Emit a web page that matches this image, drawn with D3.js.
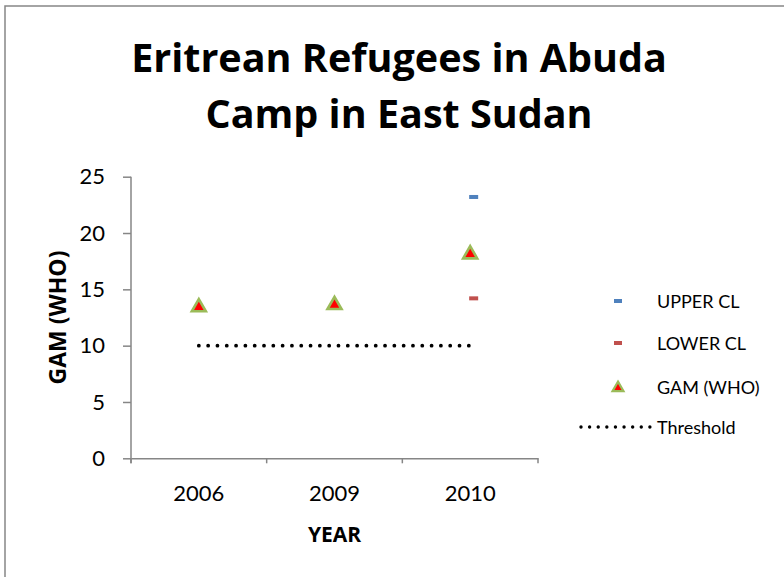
<!DOCTYPE html>
<html>
<head>
<meta charset="utf-8">
<script src="https://cdn.jsdelivr.net/npm/d3@7"></script>
<style>
  html, body { margin: 0; padding: 0; background: #fff; }
  svg { display: block; font-family: Lato, "Open Sans", sans-serif; }
</style>
</head>
<body>
<svg id="chart" width="784" height="577"></svg>
<script>
// Survey years and GAM (WHO) prevalence with confidence limits
const years = ["2006", "2009", "2010"];
const gam = [13.5, 13.7, 18.2];
const upperCL = [null, null, 23.2];
const lowerCL = [null, null, 14.2];
const threshold = [10, 10, 10];
const yTicks = [0, 5, 10, 15, 20, 25];
const titleLines = ["Eritrean Refugees in Abuda", "Camp in East Sudan"];

const svg = d3.select("#chart");
const axisGrey = "#868686";
const boldFont = "'Open Sans', Lato, sans-serif";

// outer chart frame
svg.append("rect")
  .attr("x", 5).attr("y", 6)
  .attr("width", 800).attr("height", 600)
  .attr("fill", "#fff")
  .attr("stroke", axisGrey).attr("stroke-width", 1.5);

const plot = { left: 131, right: 538, top: 176.7, bottom: 458.3 };

const x = d3.scaleBand().domain(years).range([plot.left, plot.right]).paddingInner(0).paddingOuter(0);
const y = d3.scaleLinear().domain([0, 25]).range([plot.bottom, plot.top]);
const cx = d => x(d) + x.bandwidth() / 2;

// title, sized so the first line spans the chart's title width
const title = svg.append("text")
  .attr("text-anchor", "middle")
  .attr("font-family", boldFont)
  .attr("font-weight", "bold").attr("font-size", 36);
title.selectAll("tspan").data(titleLines).join("tspan")
  .attr("x", 399)
  .attr("y", (d, i) => 72 + i * 56)
  .text(d => d);
const firstLine = title.select("tspan").node().getComputedTextLength();
if (firstLine > 0) title.attr("font-size", 36 * 536 / firstLine);

// y axis
const yAxis = svg.append("g")
  .attr("transform", `translate(${plot.left},0)`)
  .call(d3.axisLeft(y).tickValues(yTicks).tickSize(8).tickPadding(18).tickSizeOuter(0));
yAxis.select(".domain").attr("stroke", axisGrey).attr("stroke-width", 1.5)
  .attr("d", `M0,${plot.top}V${plot.bottom + 5}`);
yAxis.selectAll(".tick line").attr("stroke", axisGrey).attr("stroke-width", 1.5);
yAxis.selectAll(".tick text").attr("font-size", 22).attr("fill", "#000")
  .attr("font-family", "Lato, 'Open Sans', sans-serif");

// x axis with boundary ticks between categories
const xAxis = svg.append("g")
  .attr("transform", `translate(0,${plot.bottom})`)
  .call(d3.axisBottom(x).tickSize(0).tickPadding(0).tickSizeOuter(0));
xAxis.select(".domain").attr("stroke", axisGrey).attr("stroke-width", 1.5);
xAxis.selectAll(".tick text").attr("font-size", 22).attr("fill", "#000")
  .attr("font-family", "Lato, 'Open Sans', sans-serif")
  .attr("dy", 0).attr("y", 43);
const bounds = years.map(d => x(d)).concat([x(years[years.length - 1]) + x.bandwidth()]);
xAxis.selectAll(".bound").data(bounds).join("line")
  .attr("class", "bound")
  .attr("x1", d => d).attr("x2", d => d)
  .attr("y1", 0).attr("y2", 5)
  .attr("stroke", axisGrey).attr("stroke-width", 1.5);

// axis titles
svg.append("text")
  .attr("x", (plot.left + plot.right) / 2).attr("y", 542)
  .attr("text-anchor", "middle")
  .attr("font-family", boldFont)
  .attr("font-weight", "bold").attr("font-size", 21)
  .text("YEAR");
svg.append("text")
  .attr("transform", `translate(66,${(plot.top + plot.bottom) / 2}) rotate(-90)`)
  .attr("text-anchor", "middle")
  .attr("font-family", boldFont)
  .attr("font-weight", "bold").attr("font-size", 23)
  .text("GAM (WHO)");

// threshold dotted line
const dotStyle = sel => sel
  .attr("fill", "none").attr("stroke", "#000")
  .attr("stroke-width", 3.8).attr("stroke-linecap", "round")
  .attr("stroke-dasharray", "0.01,9.3");
svg.append("path")
  .datum(years.map((d, i) => [cx(d), y(threshold[i])]))
  .attr("d", d3.line())
  .call(dotStyle);

// confidence limit dashes
const dash = (g, color) => g
  .attr("width", 9).attr("height", 4)
  .attr("fill", color);
svg.selectAll(".upper").data(years.map((d, i) => ({ d, v: upperCL[i] })).filter(o => o.v != null))
  .join("rect").attr("class", "upper")
  .attr("x", o => cx(o.d) - 1).attr("y", o => y(o.v) - 2)
  .call(dash, "#4F81BD");
svg.selectAll(".lower").data(years.map((d, i) => ({ d, v: lowerCL[i] })).filter(o => o.v != null))
  .join("rect").attr("class", "lower")
  .attr("x", o => cx(o.d) - 1).attr("y", o => y(o.v) - 2)
  .call(dash, "#C0504D");

// GAM triangles
const tri = d3.symbol().type(d3.symbolTriangle).size(85);
const triStyle = sel => sel
  .attr("fill", "#FF0000").attr("stroke", "#9BBB59").attr("stroke-width", 2.6)
  .attr("stroke-linejoin", "miter");
svg.selectAll(".gam").data(years.map((d, i) => ({ d, v: gam[i] })))
  .join("path").attr("class", "gam")
  .attr("d", tri)
  .attr("transform", o => `translate(${cx(o.d)},${y(o.v) + 1})`)
  .call(triStyle);

// legend
const legend = svg.append("g");
const rows = [
  { label: "UPPER CL", y: 301 },
  { label: "LOWER CL", y: 343 },
  { label: "GAM (WHO)", y: 387 },
  { label: "Threshold", y: 427 }
];
legend.selectAll("text").data(rows).join("text")
  .attr("x", 657).attr("y", r => r.y + 7)
  .attr("font-size", 18).attr("fill", "#000")
  .text(r => r.label);
legend.append("rect").attr("x", 614).attr("y", rows[0].y - 2).call(dash, "#4F81BD").attr("width", 8);
legend.append("rect").attr("x", 614).attr("y", rows[1].y - 2).call(dash, "#C0504D").attr("width", 8);
legend.append("path").attr("d", d3.symbol().type(d3.symbolTriangle).size(52))
  .attr("transform", `translate(618,${rows[2].y + 1})`).call(triStyle).attr("stroke-width", 2.2);
legend.append("path").attr("d", d3.line()([[581, rows[3].y], [650, rows[3].y]]))
  .call(dotStyle).attr("stroke-width", 3.4).attr("stroke-dasharray", "0.01,8.6");
</script>
</body>
</html>
